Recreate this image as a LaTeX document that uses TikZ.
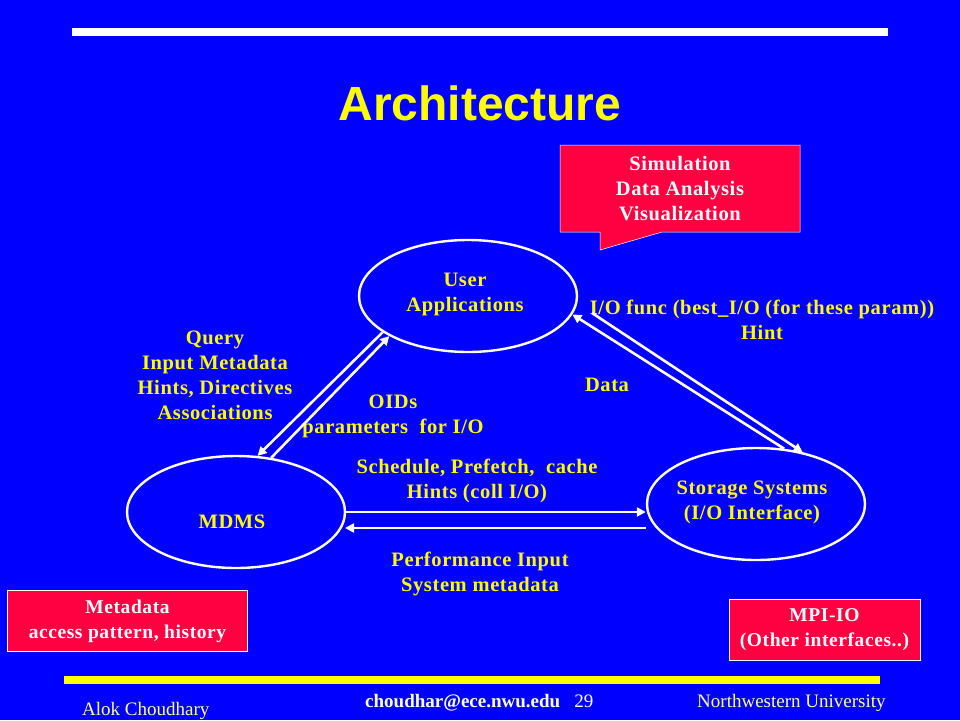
\documentclass[tikz,border=0pt]{standalone}
\usepackage{fontspec}
\setmainfont{Liberation Serif}
\newfontfamily\titlefont{Liberation Sans}
\newfontfamily\wideserif[LetterSpace=3]{Liberation Serif}
\usetikzlibrary{shapes.geometric,arrows.meta}
\definecolor{slideblue}{RGB}{0,0,255}
\definecolor{boxred}{RGB}{255,0,64}
\definecolor{txtyellow}{RGB}{255,255,0}
\definecolor{paleyellow}{RGB}{255,255,160}
\tikzset{
  ell/.style={draw=white, line width=2.4pt, ellipse, minimum width=218pt, minimum height=112pt, inner sep=0pt},
  lbl/.style={text=txtyellow, font=\wideserif\bfseries\fontsize{20.5}{25}\selectfont, align=center, inner sep=0pt},
  wlbl/.style={text=white, font=\wideserif\bfseries\fontsize{20.5}{25}\selectfont, align=center, inner sep=0pt},
  redbox/.style={fill=boxred, draw=white, line width=0.5pt},
  arr/.style={draw=white, line width=2.6pt, -{Triangle[length=9pt,width=9pt]}},
  foot/.style={text=paleyellow, font=\fontsize{19}{21}\selectfont, inner sep=0pt, anchor=base west}
}
\begin{document}
\begin{tikzpicture}[x=1pt,y=-1pt]
\useasboundingbox (0,0) rectangle (960,720);
\fill[slideblue] (0,0) rectangle (960,720);
% bars
\fill[white] (72,28) rectangle (888,36);
\fill[txtyellow] (64,676) rectangle (880,684);
% title
\node[text=txtyellow, font=\titlefont\bfseries\fontsize{48}{52}\selectfont, inner sep=0pt] (title) at (480,103) {Architecture};
% callout
\path[redbox] (560,145) -- (800,145) -- (800,232) -- (662,232) -- (600,250) -- (600,232) -- (560,232) -- cycle;
\node[wlbl] (callout) at (680,189) {Simulation\\Data Analysis\\Visualization};
% ellipses
\node[ell] (ua) at (468,296) {};
\node[lbl] (uat) at (465,294) {User\\Applications};
\node[ell] (md) at (236,512) {};
\node[lbl] (mdt) at (232,522) {MDMS};
\node[ell] (st) at (756,504) {};
\node[lbl] (stt) at (752,502) {Storage Systems\\(I/O Interface)};
% labels
\node[lbl] (q) at (215,375) {Query\\Input Metadata\\Hints, Directives\\Associations};
\node[lbl] (oid) at (393,416) {OIDs\\parameters\ \ for I/O};
\node[lbl] (sched) at (477,481) {Schedule, Prefetch,\ \ cache\\Hints (coll I/O)};
\node[lbl] (perf) at (480,574) {Performance Input\\System metadata};
\node[lbl] (iof) at (762,320) {I/O func (best\_I/O (for these param))\\Hint};
\node[lbl] (data) at (607,385) {Data};
% red boxes
\node[redbox, wlbl, font=\wideserif\bfseries\fontsize{19.5}{25}\selectfont, minimum width=240pt, minimum height=61pt] (meta) at (127.5,621) {Metadata\\access pattern, history};
\node[redbox, wlbl, font=\wideserif\bfseries\fontsize{19.5}{25}\selectfont, minimum width=191pt, minimum height=61pt] (mpi) at (824.5,629.5) {MPI-IO\\(Other interfaces..)};
% arrows
\draw[arr] (ua.203) -- (md.69);
\draw[arr] (md.57) -- (ua.207);
\draw[arr] (st.63) -- (ua.350);
\coordinate (dstart) at (592,313);
\draw[arr] (dstart) -- (st.48);
\draw[arr] (md.east) -- (md.east -| st.west);
\coordinate (lo) at (345,528);
\draw[arr] (lo -| st.west) -- (lo);
% footer
\node[foot] (auth) at (82,715) {Alok Choudhary};
\node[text=white, font=\bfseries\fontsize{19}{21}\selectfont, inner sep=0pt, anchor=base west] (mail) at (365,707) {choudhar@ece.nwu.edu\ \ \ \mdseries 29};
\node[foot] (univ) at (697,707) {Northwestern University};
\end{tikzpicture}
\end{document}
